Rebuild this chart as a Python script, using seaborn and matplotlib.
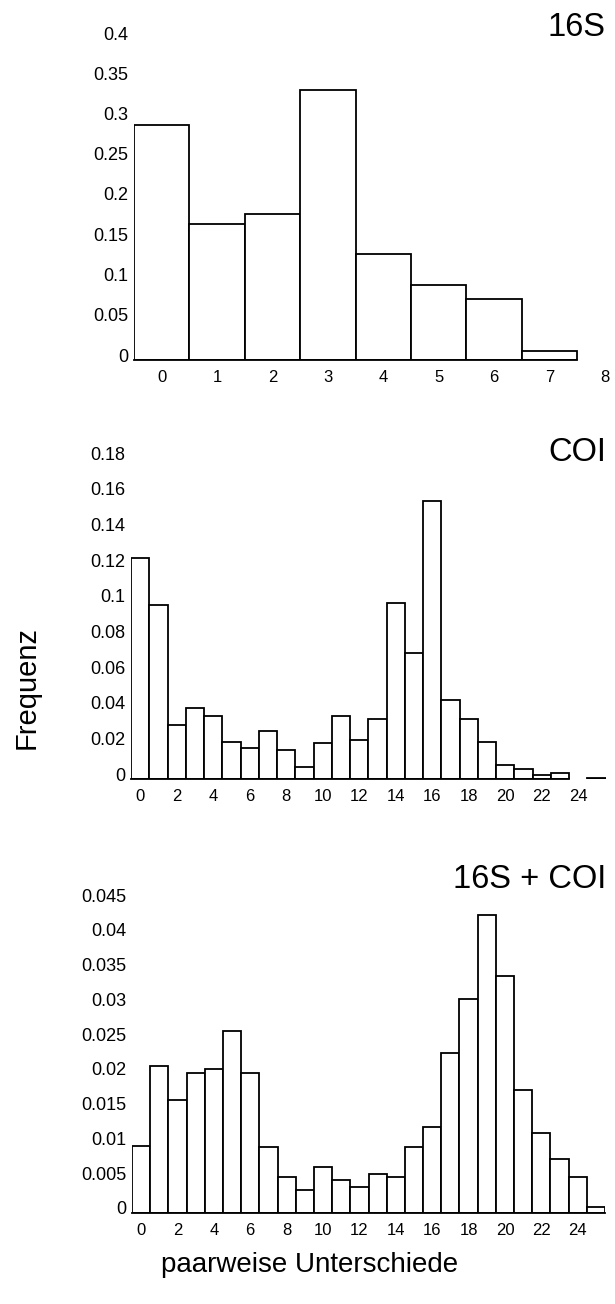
import matplotlib
matplotlib.use("Agg")
import matplotlib.pyplot as plt
import matplotlib.transforms as mtransforms
import seaborn as sns

# pairwise differences -> frequency
diff_16s = [0, 1, 2, 3, 4, 5, 6, 7]
freq_16s = [0.292, 0.169, 0.181, 0.335, 0.132, 0.093, 0.076, 0.0116]

diff_coi = list(range(0, 24)) + [25]
freq_coi = [0.1237, 0.0976, 0.0305, 0.0398, 0.0355, 0.0206, 0.0174, 0.0271,
            0.0163, 0.0069, 0.0202, 0.0351, 0.0221, 0.0338, 0.0987, 0.0707,
            0.156, 0.0441, 0.0336, 0.0206, 0.0079, 0.0056, 0.0024, 0.0032,
            0.0006]

diff_both = list(range(0, 26))
freq_both = [0.0096, 0.0211, 0.0163, 0.0201, 0.0207, 0.0261, 0.0201, 0.0095,
             0.0052, 0.0033, 0.0066, 0.0048, 0.0038, 0.0056, 0.0052, 0.0095,
             0.0124, 0.0230, 0.0307, 0.0428, 0.0341, 0.0177, 0.0115, 0.0077,
             0.0052, 0.00086]

yticks_16s = [0, 0.05, 0.1, 0.15, 0.2, 0.25, 0.3, 0.35, 0.4]
yticks_coi = [0, 0.02, 0.04, 0.06, 0.08, 0.1, 0.12, 0.14, 0.16, 0.18]
yticks_both = [0, 0.005, 0.01, 0.015, 0.02, 0.025, 0.03, 0.035, 0.04, 0.045]

sns.set_style("white")
plt.rcParams['font.family'] = ['Liberation Sans', 'DejaVu Sans']
plt.rcParams['text.color'] = 'black'
plt.rcParams['xtick.color'] = 'black'
plt.rcParams['ytick.color'] = 'black'

W, H = 615, 1304
fig = plt.figure(figsize=(W / 100, H / 100), dpi=100)


def px_axes(left, right, top, bottom):
    return fig.add_axes([left / W, 1 - bottom / H, (right - left) / W, (bottom - top) / H])


def panel(ax, x, y, yticks, xticks, xlim, axis_end, title, title_y):
    sns.barplot(x=x, y=y, native_scale=True, width=1, color="white",
                edgecolor="black", linewidth=1.3, errorbar=None, ax=ax)
    ax.set_xlim(*xlim)
    ax.set_ylim(0, yticks[-1])
    ax.set_xticks(xticks)
    ax.set_xticklabels([str(t) for t in xticks])
    ax.set_yticks(yticks)
    ax.set_yticklabels([f"{t:g}" for t in yticks])
    for s in ["top", "right", "left"]:
        ax.spines[s].set_visible(False)
    ax.spines["bottom"].set_bounds(xlim[0], axis_end)
    ax.spines["bottom"].set_linewidth(1.3)
    ax.spines["bottom"].set_color("black")
    ax.tick_params(axis="x", length=0, pad=7, labelsize=12, labelcolor="black")
    ax.tick_params(axis="y", length=0, pad=4, labelsize=13, labelcolor="black")
    # the original labels sit a bit above their levels
    off = mtransforms.ScaledTranslation(0, 5 / 100, fig.dpi_scale_trans)
    for lab in ax.get_yticklabels():
        lab.set_transform(lab.get_transform() + off)
    ax.set_xlabel("")
    ax.set_ylabel("")
    fig.text(606 / W, 1 - title_y / H, title, ha="right", va="center",
             fontsize=23.5, color="black")


ax1 = px_axes(134, 134 + 9 * 55.4, 38, 360)
panel(ax1, diff_16s, freq_16s, yticks_16s, list(range(0, 9)), (-0.5, 8.5), 7.5, "16S", 28)

ax2 = px_axes(131, 605.5, 458, 779)
panel(ax2, diff_coi, freq_coi, yticks_coi, list(range(0, 25, 2)), (-0.5, 25.5), 23.5, "COI", 453)

ax3 = px_axes(132, 605, 900, 1213)
panel(ax3, diff_both, freq_both, yticks_both, list(range(0, 25, 2)), (-0.5, 25.5), 25.5, "16S + COI", 880)

fig.text(27 / W, 1 - 688 / H, "Frequenz", rotation=90, ha="center", va="center",
         fontsize=21, color="black")
fig.text(310 / W, 1 - 1265 / H, "paarweise Unterschiede", ha="center", va="center",
         fontsize=20, color="black")

fig.savefig("out.png", dpi=100, facecolor="white")
